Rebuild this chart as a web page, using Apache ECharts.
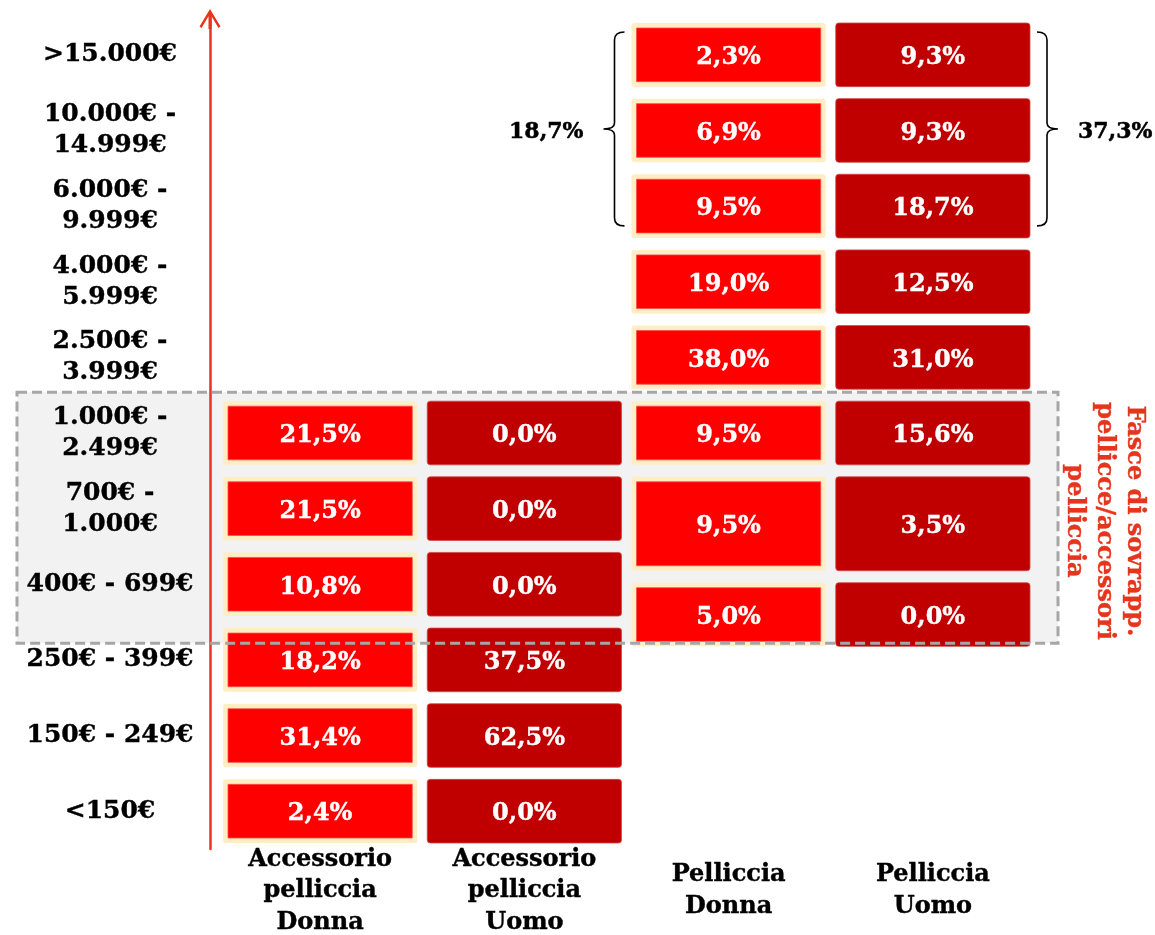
<!DOCTYPE html>
<html>
<head>
<meta charset="utf-8">
<script src="https://cdn.jsdelivr.net/npm/echarts@6/dist/echarts.min.js"></script>
<style>
  html, body { margin: 0; padding: 0; background: #ffffff; }
  #chart { width: 1155px; height: 935px; }
</style>
</head>
<body>
<div id="chart"></div>
<script>
// Price bands, bottom (cheapest) to top
const priceBands = [
  '<150€', '150€ - 249€', '250€ - 399€', '400€ - 699€',
  '700€ -\n1.000€', '1.000€ -\n2.499€', '2.500€ -\n3.999€',
  '4.000€ -\n5.999€', '6.000€ -\n9.999€', '10.000€ -\n14.999€', '>15.000€'
];

// Product columns
const products = [
  'Accessorio\npelliccia\nDonna',
  'Accessorio\npelliccia\nUomo',
  'Pelliccia\nDonna',
  'Pelliccia\nUomo'
];

// Accessories: one value per price band, from '<150€' up to '1.000€ - 2.499€'
const accDonna = [2.4, 31.4, 18.2, 10.8, 21.5, 21.5];
const accUomo  = [0.0, 62.5, 37.5, 0.0, 0.0, 0.0];

// Furs use their own band split at the low end: [from, to] in price-band units
const pellBands = [
  [2.1, 3.1], [3.1, 4.5], [4.5, 5.5], [5.5, 6.5],
  [6.5, 7.5], [7.5, 8.5], [8.5, 9.5], [9.5, 10.5]
];
const pellDonna = [5.0, 9.5, 9.5, 38.0, 19.0, 9.5, 6.9, 2.3];
const pellUomo  = [0.0, 3.5, 15.6, 31.0, 12.5, 18.7, 9.3, 9.3];

// Bands summed by the braces (top three fur bands)
const bracedBands = [5, 6, 7];

// Price range where fur and accessory bands overlap (price-band units)
const overlapSpan = [2.22, 5.54];

const overlapTitle = 'Fasce di sovrapp.\npellicce/accessori\npelliccia';

const FONT = '"DejaVu Serif", "Liberation Serif", serif';
const ACCENT = '#E5361D';

const fmt = v => v.toFixed(1).replace('.', ',') + '%';

// Build cell records: [column, fromBand, toBand, value]
const cells = [];
accDonna.forEach((v, i) => cells.push([0, i - 0.5, i + 0.5, v]));
accUomo.forEach((v, i) => cells.push([1, i - 0.5, i + 0.5, v]));
pellDonna.forEach((v, i) => cells.push([2, pellBands[i][0], pellBands[i][1], v]));
pellUomo.forEach((v, i) => cells.push([3, pellBands[i][0], pellBands[i][1], v]));

const sumBraced = arr => bracedBands.reduce((s, i) => s + arr[i], 0);
const braceFrom = pellBands[bracedBands[0]][0];
const braceTo = pellBands[bracedBands[bracedBands.length - 1]][1];
const braces = [
  [2, braceFrom, braceTo, sumBraced(pellDonna)],
  [3, braceFrom, braceTo, sumBraced(pellUomo)]
];

function bandToPx(api, r) {
  const base = api.coord([0, 0])[1];
  const step = api.size([0, 1])[1];
  return base - r * step;
}

function renderCell(params, api) {
  const col = api.value(0);
  const cx = api.coord([col, 0])[0];
  const bw = api.size([1, 0])[0];
  const yTop = bandToPx(api, api.value(2));
  const yBot = bandToPx(api, api.value(1));
  const x = cx - bw / 2 + 5;
  const w = bw - 10;
  const y = yTop + 6;
  const h = yBot - yTop - 12;
  const children = [];
  if (col % 2 === 0) {
    children.push({ type: 'rect', shape: { x: x, y: y, width: w, height: h, r: 3 }, style: { fill: '#FFEDC4' } });
    children.push({ type: 'rect', shape: { x: x + 5, y: y + 5, width: w - 10, height: h - 10 }, style: { fill: '#FF0000', stroke: '#FF4A4A', lineWidth: 0.8 } });
  } else {
    children.push({ type: 'rect', shape: { x: x, y: y, width: w, height: h, r: 3 }, style: { fill: '#C00000', stroke: '#D04848', lineWidth: 0.8 } });
  }
  children.push({
    type: 'text',
    style: {
      text: fmt(api.value(3)), x: cx, y: y + h / 2 + 3,
      fill: '#ffffff', stroke: '#ffffff', lineWidth: 0.4,
      fontFamily: FONT, fontWeight: 'bold', fontSize: 24,
      align: 'center', verticalAlign: 'middle'
    }
  });
  return { type: 'group', children: children };
}

function renderBrace(params, api) {
  const col = api.value(0);
  const cx = api.coord([col, 0])[0];
  const bw = api.size([1, 0])[0];
  const yTop = bandToPx(api, api.value(2)) + 15;
  const yBot = bandToPx(api, api.value(1)) - 18;
  const ym = (yTop + yBot) / 2;
  const left = col === 2;
  const edge = left ? cx - bw / 2 + 1 : cx + bw / 2 - 1;
  const d = left ? -1 : 1;
  const e = edge + d * 3, v = edge + d * 13, t = edge + d * 24;
  const path =
    'M' + e + ' ' + yTop +
    ' Q' + v + ' ' + yTop + ' ' + v + ' ' + (yTop + 8) +
    ' L' + v + ' ' + (ym - 6) +
    ' Q' + v + ' ' + ym + ' ' + t + ' ' + ym +
    ' Q' + v + ' ' + ym + ' ' + v + ' ' + (ym + 6) +
    ' L' + v + ' ' + (yBot - 8) +
    ' Q' + v + ' ' + yBot + ' ' + e + ' ' + yBot;
  return {
    type: 'group',
    children: [
      { type: 'path', shape: { pathData: path }, style: { fill: 'none', stroke: '#000000', lineWidth: 1.6 } },
      {
        type: 'text',
        style: {
          text: fmt(api.value(3)), x: t + d * 20, y: ym + 3,
          fill: '#000000', stroke: '#000000', lineWidth: 0.5,
          fontFamily: FONT, fontWeight: 'bold', fontSize: 22,
          align: left ? 'right' : 'left', verticalAlign: 'middle'
        }
      }
    ]
  };
}

function overlapBox(withFill) {
  return function (params, api) {
    const x0 = api.coord([0, 0])[0] - api.size([1, 0])[0] / 2 - 201;
    const x1 = api.coord([3, 0])[0] + api.size([1, 0])[0] / 2 + 23;
    const yTop = bandToPx(api, api.value(1));
    const yBot = bandToPx(api, api.value(0));
    const shape = { x: x0, y: yTop, width: x1 - x0, height: yBot - yTop };
    return withFill
      ? { type: 'rect', shape: shape, style: { fill: '#F2F2F2' } }
      : { type: 'rect', shape: shape, style: { fill: 'none', stroke: '#A6A6A6', lineWidth: 3, lineDash: [10, 5] } };
  };
}

const chart = echarts.init(document.getElementById('chart'), null, { renderer: 'canvas' });

chart.setOption({
  backgroundColor: '#ffffff',
  animation: false,
  grid: { left: 218, right: 120, top: 17, bottom: 86, outerBoundsMode: 'none' },
  xAxis: {
    type: 'category',
    data: products,
    axisLine: { show: false },
    axisTick: { show: false },
    splitLine: { show: false },
    axisLabel: {
      color: '#000000', fontFamily: FONT, fontWeight: 'bold', fontSize: 24,
      lineHeight: 31.5, verticalAlign: 'middle', margin: 42, interval: 0,
      textBorderColor: '#000000', textBorderWidth: 0.4
    }
  },
  yAxis: {
    type: 'category',
    data: priceBands,
    offset: 8,
    axisTick: { show: false },
    splitLine: { show: false },
    axisLine: {
      show: true,
      lineStyle: { color: ACCENT, width: 2.5 },
      symbol: ['none', 'path://M10.5 0 L21 17.5 L19 19 L12 7.3 L12 20 L9 20 L9 7.3 L2 19 L0 17.5 Z'],
      symbolSize: [21, 20],
      symbolOffset: [0, -2]
    },
    axisLabel: {
      color: '#000000', fontFamily: FONT, fontWeight: 'bold', fontSize: 25,
      lineHeight: 31, align: 'center', margin: 100, interval: 0,
      padding: [8, 0, 0, 0],
      textBorderColor: '#000000', textBorderWidth: 0.4
    }
  },
  graphic: [{
    type: 'text',
    x: 1104, y: 521,
    rotation: -Math.PI / 2,
    style: {
      text: overlapTitle,
      fill: ACCENT, stroke: ACCENT, lineWidth: 0.4,
      fontFamily: FONT, fontWeight: 'bold', fontSize: 24,
      lineHeight: 30, align: 'center', verticalAlign: 'middle'
    },
    z: 20
  }],
  series: [
    { type: 'custom', name: 'overlap-fill', z: -1, silent: true, renderItem: overlapBox(true), data: [overlapSpan] },
    { type: 'custom', name: 'cells', z: 2, renderItem: renderCell, data: cells },
    { type: 'custom', name: 'overlap-border', z: 10, silent: true, renderItem: overlapBox(false), data: [overlapSpan] },
    { type: 'custom', name: 'braces', z: 3, renderItem: renderBrace, data: braces }
  ]
});
</script>
</body>
</html>
